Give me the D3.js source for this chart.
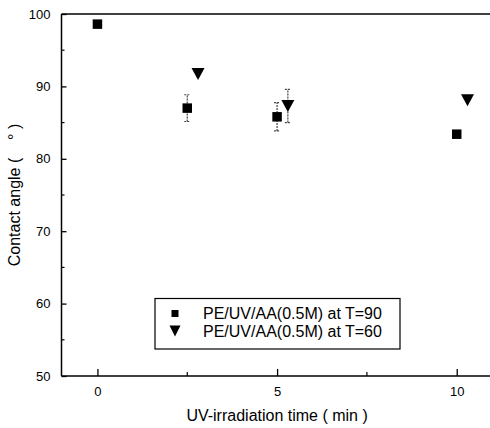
<!DOCTYPE html>
<html>
<head>
<meta charset="utf-8">
<script src="https://cdn.jsdelivr.net/npm/d3@7"></script>
<style>
  html, body { margin: 0; padding: 0; background: #fff; }
  svg { display: block; font-family: "Liberation Sans", Arial, sans-serif; }
</style>
</head>
<body>
<svg id="chart" width="490" height="428"></svg>
<script>
// Contact angle vs. UV-irradiation time
const timeT90 = [0, 2.5, 5, 10];
const angleT90 = [98.6, 87.0, 85.8, 83.4];
const errT90 = [0, 1.85, 1.95, 0];

const timeT60 = [2.8, 5.3, 10.3];
const angleT60 = [91.7, 87.3, 88.1];
const errT60 = [0, 2.3, 0];

const xTickValues = [0, 5, 10];
const xMinorTicks = [2.5, 7.5];
const yTickValues = [50, 60, 70, 80, 90, 100];
const yMinorTicks = [55, 65, 75, 85, 95];

const seriesNames = ["PE/UV/AA(0.5M) at T=90", "PE/UV/AA(0.5M) at T=60"];

const svg = d3.select("#chart");
const plotLeft = 61.5, plotTop = 14, plotBottom = 376;
const x = d3.scaleLinear().domain([-1, 11]).range([plotLeft, plotLeft + 12 * 35.93]);
const y = d3.scaleLinear().domain([50, 100]).range([plotBottom, plotTop]);

// axis frame
const frame = svg.append("g").attr("fill", "none").attr("stroke", "#000").attr("stroke-width", 1.5);
frame.append("line").attr("x1", x(-1)).attr("x2", x(11)).attr("y1", y(50)).attr("y2", y(50));
frame.append("line").attr("x1", x(-1)).attr("x2", x(11)).attr("y1", y(100)).attr("y2", y(100));
frame.append("line").attr("x1", x(-1)).attr("x2", x(-1)).attr("y1", y(50)).attr("y2", y(100));
frame.append("line").attr("x1", x(11)).attr("x2", x(11)).attr("y1", y(50)).attr("y2", y(100));

// bottom axis (ticks pointing inward)
const xAxis = svg.append("g").attr("transform", `translate(0,${plotBottom})`)
  .call(d3.axisBottom(x).tickValues(xTickValues).tickSizeInner(-7).tickSizeOuter(0).tickPadding(11).tickFormat(d3.format("d")));
xAxis.select(".domain").remove();
xAxis.selectAll(".tick line").attr("stroke-width", 1.3);
xAxis.selectAll("text").attr("font-size", 13).attr("font-family", "Liberation Sans, Arial, sans-serif").attr("fill", "#000");
svg.append("g").selectAll("line").data(xMinorTicks).join("line")
  .attr("x1", d => x(d)).attr("x2", d => x(d)).attr("y1", plotBottom).attr("y2", plotBottom - 4)
  .attr("stroke", "#000").attr("stroke-width", 1.2);

// left axis
const yAxis = svg.append("g").attr("transform", `translate(${plotLeft},0)`)
  .call(d3.axisLeft(y).tickValues(yTickValues).tickSizeInner(-5).tickSizeOuter(0).tickPadding(11).tickFormat(d3.format("d")));
yAxis.select(".domain").remove();
yAxis.selectAll(".tick line").attr("stroke-width", 1.3);
yAxis.selectAll("text").attr("font-size", 13).attr("font-family", "Liberation Sans, Arial, sans-serif").attr("fill", "#000");
svg.append("g").selectAll("line").data(yMinorTicks).join("line")
  .attr("x1", plotLeft).attr("x2", plotLeft + 3).attr("y1", d => y(d)).attr("y2", d => y(d))
  .attr("stroke", "#000").attr("stroke-width", 1.2);

// axis titles
svg.append("text").attr("x", x(5)).attr("y", 421).attr("text-anchor", "middle")
  .attr("font-size", 16).text("UV-irradiation time ( min )");
svg.append("text").attr("transform", `translate(19.5,${(plotTop + plotBottom) / 2}) rotate(-90)`)
  .attr("text-anchor", "middle").attr("font-size", 16)
  .style("white-space", "pre").text("Contact angle (    \u00b0 )");

// error bars
function errorBars(xs, ys, es) {
  const g = svg.append("g").attr("stroke", "#444").attr("stroke-width", 1.2).attr("stroke-dasharray", "2,1");
  xs.forEach((t, i) => {
    if (!es[i]) return;
    const cx = x(t), y0 = y(ys[i] - es[i]), y1 = y(ys[i] + es[i]);
    g.append("line").attr("x1", cx).attr("x2", cx).attr("y1", y0).attr("y2", y1);
    g.append("line").attr("x1", cx - 3).attr("x2", cx + 3).attr("y1", y0).attr("y2", y0).attr("stroke-dasharray", null);
    g.append("line").attr("x1", cx - 3).attr("x2", cx + 3).attr("y1", y1).attr("y2", y1).attr("stroke-dasharray", null);
  });
}
errorBars(timeT90, angleT90, errT90);
errorBars(timeT60, angleT60, errT60);

// markers
const sq = 9.5;
svg.append("g").selectAll("rect").data(timeT90).join("rect")
  .attr("x", (d) => x(d) - sq / 2).attr("y", (d, i) => y(angleT90[i]) - sq / 2)
  .attr("width", sq).attr("height", sq).attr("fill", "#000");

const triW = 13, triH = 12;
const triPath = (cx, cy, w, h) => `M${cx - w / 2},${cy - h / 2}L${cx + w / 2},${cy - h / 2}L${cx},${cy + h / 2}Z`;
svg.append("g").selectAll("path").data(timeT60).join("path")
  .attr("d", (d, i) => triPath(x(d), y(angleT60[i]), triW, triH)).attr("fill", "#000");

// legend
const lg = svg.append("g");
lg.append("rect").attr("x", 155).attr("y", 298.5).attr("width", 245).attr("height", 50.5)
  .attr("fill", "#fff").attr("stroke", "#000").attr("stroke-width", 1.2);
lg.append("rect").attr("x", 175 - 3.5).attr("y", 313.5 - 3.5).attr("width", 7).attr("height", 7).attr("fill", "#000");
lg.append("path").attr("d", triPath(175, 331, 11, 11)).attr("fill", "#000");
lg.selectAll("text").data(seriesNames).join("text")
  .attr("x", 203).attr("y", (d, i) => 319 + i * 17.5).attr("font-size", 16).attr("fill", "#000").text(d => d);
</script>
</body>
</html>
